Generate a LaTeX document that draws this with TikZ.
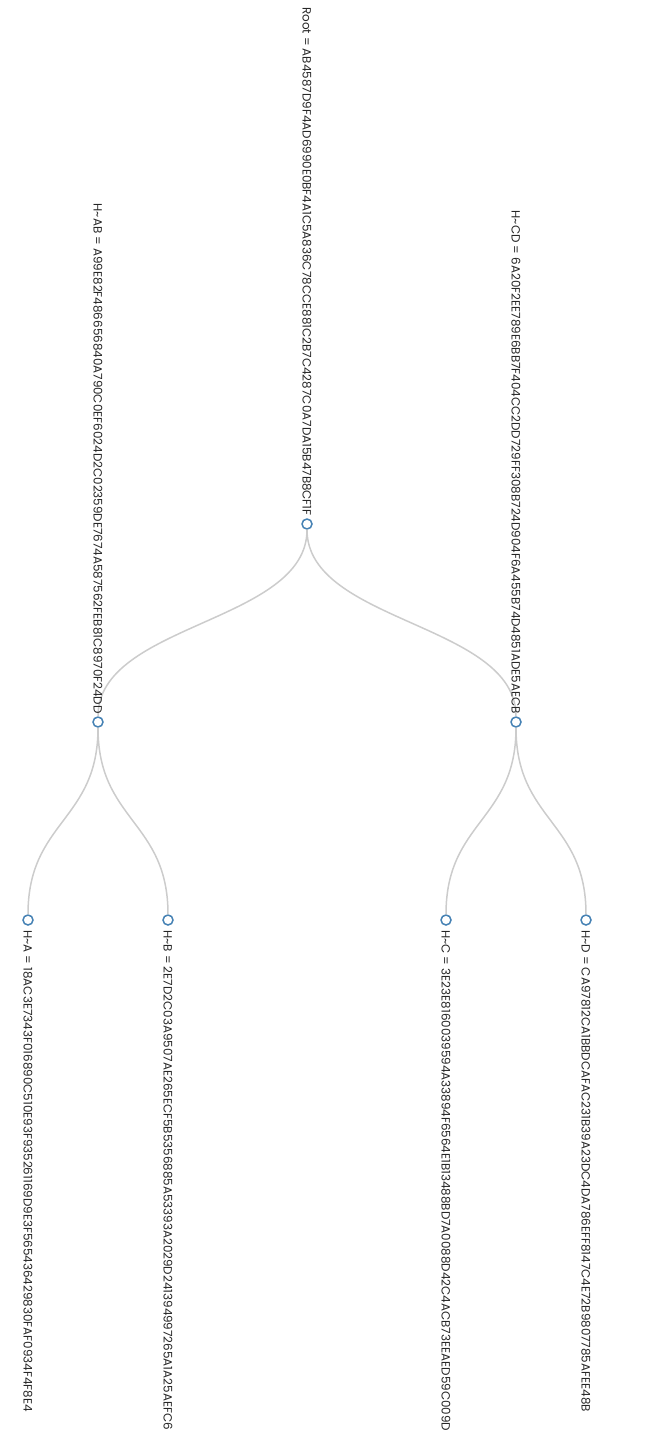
\documentclass[tikz,border=0pt]{standalone}
\usepackage{fontspec}
\setmainfont{Poppins}
\usetikzlibrary{calc}
\definecolor{nodeblue}{HTML}{4682B4}
\definecolor{linkgray}{HTML}{CCCCCC}
\tikzset{
  treenode/.style={circle, draw=nodeblue, fill=white, line width=1.5pt, minimum size=10pt, inner sep=0pt},
  link/.style={draw=linkgray, line width=1.5pt},
  uplabel/.style={rotate=-90, anchor=east, inner sep=0pt, font=\fontsize{11.9}{14}\selectfont, text=black!85},
  downlabel/.style={rotate=-90, anchor=west, inner sep=0pt, font=\fontsize{11.9}{14}\selectfont, text=black!85}
}
\begin{document}
\begin{tikzpicture}[x=1pt,y=-1pt]
\useasboundingbox (0,0) rectangle (645,1450);
\node[treenode] (root) at (307,524) {};
\node[treenode] (ab) at (98,722) {};
\node[treenode] (cd) at (516,722) {};
\node[treenode] (a) at (28,920) {};
\node[treenode] (b) at (168,920) {};
\node[treenode] (c) at (446,920) {};
\node[treenode] (d) at (586,920) {};
\foreach \p/\c in {root/ab, root/cd, ab/a, ab/b, cd/c, cd/d}{
  \draw[link] (\p) .. controls ($(\p)!0.5!(\p|-\c)$) and ($(\c)!0.5!(\c|-\p)$) .. (\c);
}
\node[uplabel] (lroot) at ([yshift=8pt]root.center) {Root = AB4587D9F4AD6990E0BF4A1C5A836C78CCE881C2B7C4287C0A7DA15B47B8CF1F};
\node[uplabel] (lab) at ([yshift=8pt]ab.center) {H\textasciitilde AB = A99E82F486656840A790C0EF6024D2C02359DE7674A587562FEB81C8970F24DD};
\node[uplabel] (lcd) at ([yshift=8pt]cd.center) {H\textasciitilde CD = 6A20F2EE789E6BB7F404CC2DD729FF308B724D904F6A455B74D4851ADE5AECB};
\node[downlabel] (la) at ([yshift=-10pt]a.center) {H\textasciitilde A = 18AC3E7343F016890C510E93F935261169D9E3F565436429830FAF0934F4F8E4};
\node[downlabel] (lb) at ([yshift=-10pt]b.center) {H\textasciitilde B = 2E7D2C03A9507AE265ECF5B5356885A53393A2029D241394997265A1A25AEFC6};
\node[downlabel] (lc) at ([yshift=-10pt]c.center) {H\textasciitilde C = 3E23E8160039594A33894F6564E1B13488BD7A0088D42C4ACB73EEAED59C009D};
\node[downlabel] (ld) at ([yshift=-10pt]d.center) {H\textasciitilde D = CA97812CA1BBDCAFAC231B39A23DC4DA786EFF8147C4E72B9807785AFEE48B};
\end{tikzpicture}
\end{document}
